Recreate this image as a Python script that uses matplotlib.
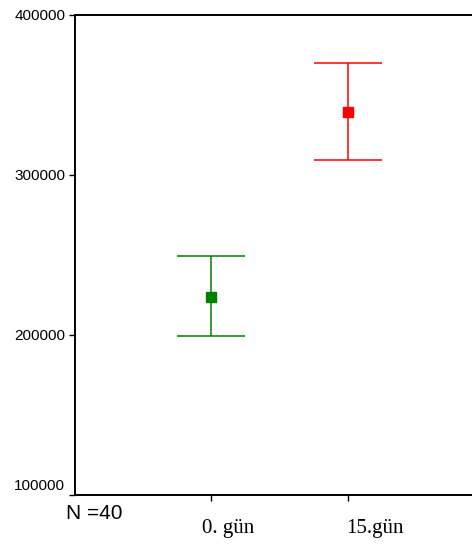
import matplotlib.pyplot as plt
import matplotlib.transforms as mtransforms

# Group means with lower/upper error bar limits
groups = ['0. gün', '15.gün']
means = [223900, 339400]
lower = [199600, 309400]
upper = [249400, 370200]
colors = ['#008000', '#ff0000']
n_label = 'N =40'
yticks = [100000, 200000, 300000, 400000]

fig = plt.figure(figsize=(4.72, 5.44), dpi=100)
ax = fig.add_axes([75 / 472, 49 / 544, 409 / 472, 480 / 544])

positions = list(range(1, len(groups) + 1))
for x, m, lo, hi, c in zip(positions, means, lower, upper, colors):
    ax.errorbar([x], [m], yerr=[[m - lo], [hi - m]], fmt='s', color=c,
                markersize=7.2, elinewidth=1.1, capsize=24.5, capthick=1.1)

ax.set_xlim(0, 3)
ax.set_ylim(100000, 400000)
ax.set_yticks(yticks)
ax.set_yticklabels([str(v) for v in yticks], fontname='Liberation Sans', fontsize=11)
ax.set_xticks(positions)
ax.set_xticklabels(groups, fontname='Liberation Serif', fontsize=15, ha='left')

for sp in ['left', 'bottom', 'top']:
    ax.spines[sp].set_linewidth(1.4)
ax.spines['right'].set_visible(False)
ax.tick_params(axis='both', direction='out', length=4, width=1.0)
ax.tick_params(axis='y', pad=3)
ax.tick_params(axis='x', pad=13)

# shift x labels slightly and lift the lowest y label off the corner
offsets = [-9, -1]
for lab, dx in zip(ax.get_xticklabels(), offsets):
    lab.set_transform(lab.get_transform() + mtransforms.ScaledTranslation(dx / 100, 0, fig.dpi_scale_trans))
ylabs = ax.get_yticklabels()
ylabs[0].set_transform(ylabs[0].get_transform() + mtransforms.ScaledTranslation(0, 10 / 100, fig.dpi_scale_trans))

fig.text(94 / 472, 1 - 513.5 / 544, n_label, fontname='Liberation Sans', fontsize=15,
         ha='center', va='center')

fig.savefig('out.png', dpi=100)
